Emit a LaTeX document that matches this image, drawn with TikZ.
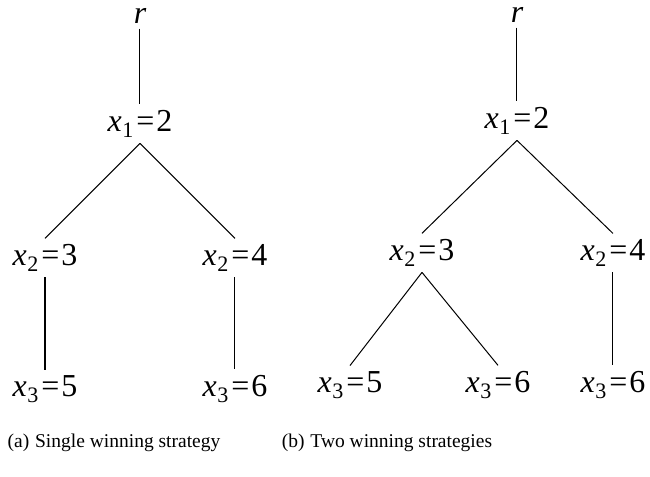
\documentclass[tikz,border=0pt]{standalone}
\usepackage{fontspec}
\usepackage{graphicx}
\setmainfont{Liberation Serif}
\usetikzlibrary{positioning}

% tree labels: set at caption size, then enlarged
\newcommand{\treetxt}[1]{\scalebox{1.64}{#1}}
% variable with index and value
\newcommand{\xval}[2]{\treetxt{{\itshape x}\kern0.2pt\raisebox{-2.1pt}{\scalebox{0.69}{#1}}\kern0.9pt=\kern0.6pt#2}}

\begin{document}
\begin{tikzpicture}[x=0.5pt, y=-0.5pt, line width=0.5pt,
  lbl/.style={inner sep=2.5pt, anchor=base, font=\fontsize{9.75}{12}\selectfont},
  captxt/.style={inner sep=0pt, anchor=base, font=\fontsize{9.75}{12}\selectfont}]
\useasboundingbox (0,0) rectangle (650,477);
% (a) single winning strategy
\node[lbl] (ra) at (140,23) {\treetxt{\itshape r}};
\node[lbl] (a1) at (140,131) {\xval{1}{2}};
\node[lbl] (a2) at (45,265) {\xval{2}{3}};
\node[lbl] (a3) at (235,265) {\xval{2}{4}};
\node[lbl] (a4) at (45,396) {\xval{3}{5}};
\node[lbl] (a5) at (235,396) {\xval{3}{6}};
\draw (ra.south) -- (a1.north);
\draw (a1.south) -- (a2.north);
\draw (a1.south) -- (a3.north);
\draw (a2.south) -- (a4.north);
\draw (a3.south) -- (a5.north);
% (b) two winning strategies
\node[lbl] (rb) at (517,22) {\treetxt{\itshape r}};
\node[lbl] (b1) at (517,128) {\xval{1}{2}};
\node[lbl] (b2) at (422,260) {\xval{2}{3}};
\node[lbl] (b3) at (613,260) {\xval{2}{4}};
\node[lbl] (b4) at (350,392) {\xval{3}{5}};
\node[lbl] (b5) at (498,392) {\xval{3}{6}};
\node[lbl] (b6) at (613,392) {\xval{3}{6}};
\draw (rb.south) -- (b1.north);
\draw (b1.south) -- (b2.north);
\draw (b1.south) -- (b3.north);
\draw (b2.south) -- (b4.north);
\draw (b2.south) -- (b5.north);
\draw (b3.south) -- (b6.north);
% captions
\node[captxt] (capa) at (114,447) {(a)\hspace{0.3em}Single winning strategy};
\node[captxt] (capb) at (387,447) {(b)\hspace{0.3em}Two winning strategies};
\end{tikzpicture}
\end{document}
